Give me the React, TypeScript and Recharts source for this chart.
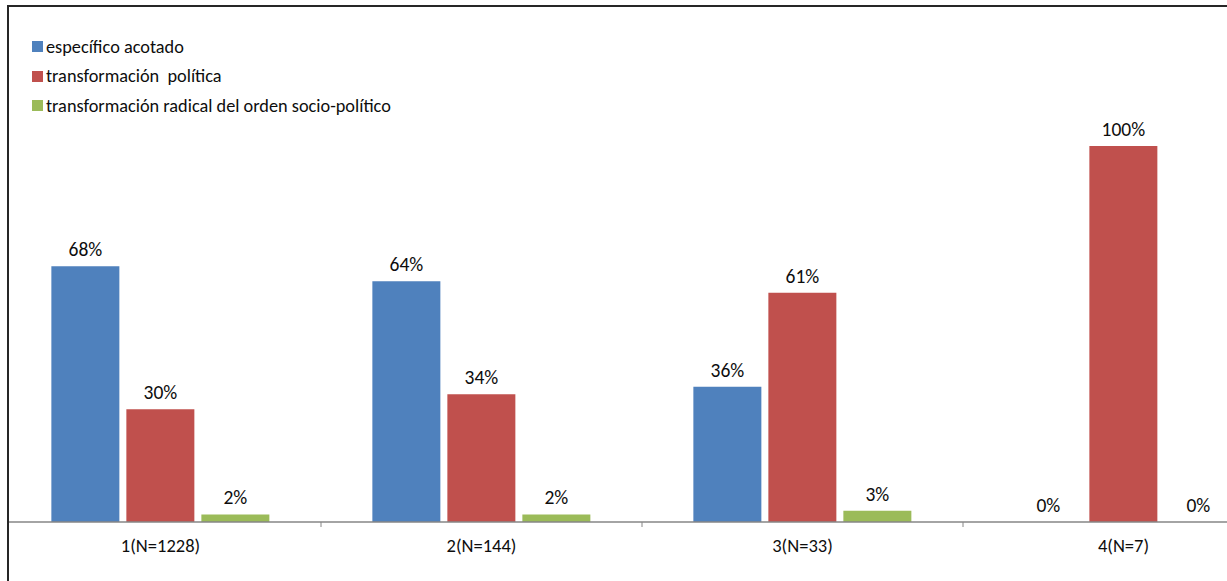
import { BarChart, Bar, XAxis, YAxis, LabelList } from "recharts";

// categories and series (percent)
const categories = ["1(N=1228)", "2(N=144)", "3(N=33)", "4(N=7)"];
const especifico = [68, 64, 36, 0];
const politica = [30, 34, 61, 100];
const radical = [2, 2, 3, 0];

const seriesNames = [
  "específico acotado",
  "transformación  política",
  "transformación radical del orden socio-político",
];
const colors = ["#4F81BD", "#C0504D", "#9BBB59"];

const data = categories.map((cat, i) => ({
  cat,
  especifico: especifico[i],
  politica: politica[i],
  radical: radical[i],
}));

const FONT = "Carlito, Calibri, 'Liberation Sans', Arial, sans-serif";

const AxisTick = (props: any) => {
  const { x, y, payload, index } = props;
  const half = payload && payload.offset ? payload.offset : 160.5;
  return (
    <g>
      {index > 0 && (
        <line x1={x - half} x2={x - half} y1={522} y2={527} stroke="#868686" strokeWidth={1} />
      )}
      <text x={x} y={y} dy={22} textAnchor="middle" fontSize={18.5} fill="#0d0d0d" fontFamily={FONT}>
        {payload.value}
      </text>
    </g>
  );
};

const LegendBox = () => (
  <div style={{ position: "absolute", left: 32, top: 32, fontFamily: FONT, fontSize: 18.3, color: "#0d0d0d" }}>
    {seriesNames.map((name, i) => (
      <div key={name} style={{ display: "flex", alignItems: "center", height: 29.5 }}>
        <span style={{ width: 11, height: 11, background: colors[i], marginRight: 3, display: "inline-block" }} />
        <span style={{ whiteSpace: "pre" }}>{name}</span>
      </div>
    ))}
  </div>
);

const pct = (v: any) => `${v}%`;

const labelProps = {
  position: "top" as const,
  offset: 10,
  formatter: pct,
  fontSize: 19.5,
  fill: "#0d0d0d",
  fontFamily: FONT,
};

export default function App() {
  return (
    <div
      style={{
        position: "fixed",
        top: 0,
        left: 0,
        width: 1227,
        height: 581,
        overflow: "hidden",
        background: "#fff",
      }}
    >
      <div style={{ position: "absolute", left: 0, top: 0 }}>
        <BarChart
          width={1284}
          height={581}
          data={data}
          margin={{ top: 146, right: 0, bottom: 0, left: 0 }}
          barCategoryGap="16%"
          barGap={7}
        >
          <XAxis
            dataKey="cat"
            height={59}
            axisLine={{ stroke: "#868686", strokeWidth: 1.5 }}
            tickLine={false}
            tick={<AxisTick />}
            interval={0}
          />
          <YAxis hide domain={[0, 100]} />
          <Bar dataKey="especifico" fill={colors[0]} minPointSize={0.01} isAnimationActive={false}>
            <LabelList dataKey="especifico" {...labelProps} />
          </Bar>
          <Bar dataKey="politica" fill={colors[1]} minPointSize={0.01} isAnimationActive={false}>
            <LabelList dataKey="politica" {...labelProps} />
          </Bar>
          <Bar dataKey="radical" fill={colors[2]} minPointSize={0.01} isAnimationActive={false}>
            <LabelList dataKey="radical" {...labelProps} />
          </Bar>
        </BarChart>
      </div>
      <LegendBox />
      {/* outside the frame: blank */}
      <div style={{ position: "absolute", left: 0, top: 0, width: 7, height: 581, background: "#fff" }} />
      <div style={{ position: "absolute", left: 0, top: 0, width: 1227, height: 5, background: "#fff" }} />
      {/* chart frame (top and left edges visible in the crop) */}
      <div style={{ position: "absolute", left: 7, top: 5, width: 1220, height: 2, background: "#262626" }} />
      <div style={{ position: "absolute", left: 7, top: 5, width: 2, height: 576, background: "#262626" }} />
    </div>
  );
}
